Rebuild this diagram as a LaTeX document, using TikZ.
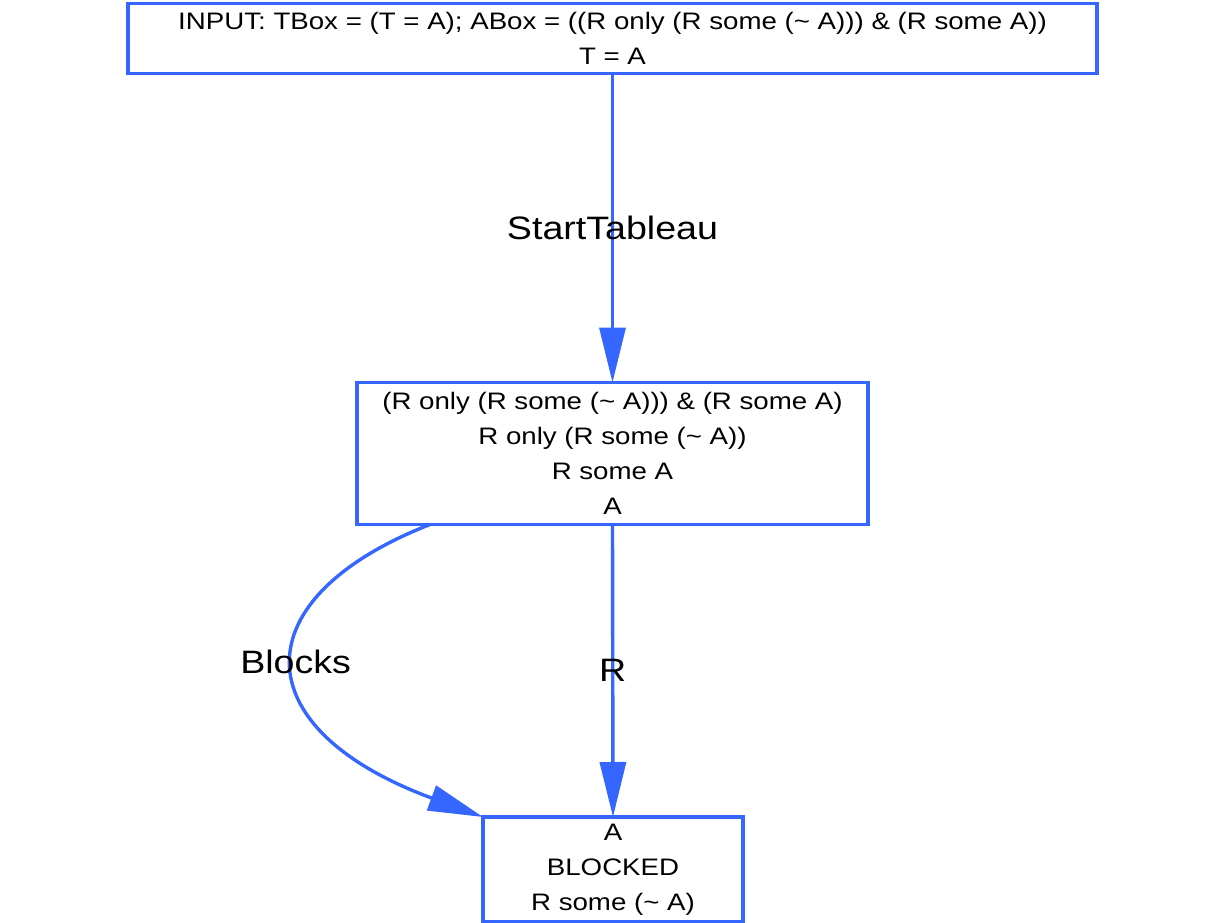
\documentclass[tikz,border=0pt]{standalone}
\usepackage{fontspec}
\newfontfamily\gvfont[FakeStretch=1.16]{Liberation Sans}
\usetikzlibrary{positioning}
\usetikzlibrary{arrows.meta}
\definecolor{gvblue}{RGB}{53,102,255}

\begin{document}
\begin{tikzpicture}[x=1pt,y=-1pt,every node/.style={outer sep=0pt},
 state/.style={draw=gvblue,line width=3.4pt,inner sep=0pt,align=center,
 font=\gvfont\fontsize{23.85}{35}\selectfont},
 edge/.style={draw=gvblue,line width=3.4pt,-{Triangle[length=55pt,width=26pt]}},
 lbl/.style={font=\gvfont\fontsize{32.4}{38}\selectfont,inner sep=0pt}]

 \useasboundingbox (0,0) rectangle (1226,923);

 \node[state,minimum width=969pt,minimum height=70pt] (input) at (612.5,38.5)
  {INPUT: TBox = (T = A); ABox = ((R only (R some (\char`\~{} A))) \& (R some A))\\T = A};
 \node[state,minimum width=511pt,minimum height=142pt] (root) at (612.5,453.5)
  {(R only (R some (\char`\~{} A))) \& (R some A)\\R only (R some (\char`\~{} A))\\R some A\\A};
 \node[state,minimum width=260pt,minimum height=105pt] (blocked) at (613,869.5)
  {A\\BLOCKED\\R some (\char`\~{} A)};

 \draw[edge] (input.south) -- (root.north) node[lbl,midway]{StartTableau};
 \draw[edge] (root.south) -- (blocked.north) node[lbl,midway]{R};
 % blocking edge, bends out to the left
 \draw[edge] ([xshift=73]root.south west) .. controls (242,598) and (242,728) ..
  (blocked.north west) node[lbl,pos=0.5,yshift=3]{Blocks};

\end{tikzpicture}
\end{document}
